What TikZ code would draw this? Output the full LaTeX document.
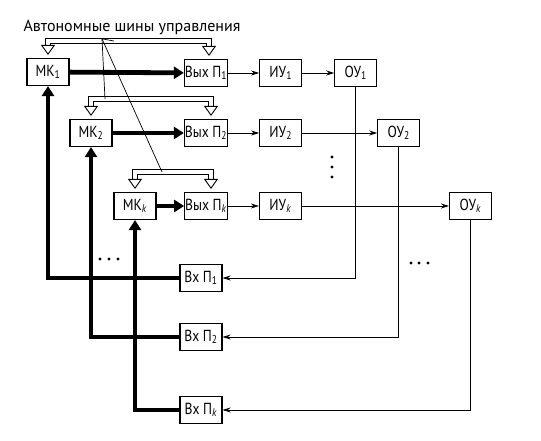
\documentclass[tikz,border=0pt]{standalone}
\usepackage{fontspec}
\setmainfont{PT Sans}[FakeStretch=0.85]
\newfontfamily\labelfont{PT Sans}
\usetikzlibrary{arrows.meta,calc,positioning}

\begin{document}
\begin{tikzpicture}[x=1pt,y=-1pt,
    every node/.style={font=\fontsize{16}{18}\selectfont,align=center},
    box/.style={draw=black,line width=1.1pt,minimum height=27pt,minimum width=42pt,inner sep=0.5pt},
    arrow/.style={-{Stealth[length=8pt,width=5pt]},line width=0.8pt},
    fat/.style={-{Triangle[length=10pt,width=12pt]},line width=4.8pt},
    bus/.style={double,double distance=3.5pt,line width=0.9pt,
        {Triangle[open,line width=0.9pt,length=10pt,width=14pt]}-{Triangle[open,line width=0.9pt,length=10pt,width=14pt]},
        shorten <=3pt,shorten >=3pt}
]
\useasboundingbox (0,0) rectangle (541,441);

\node[font=\labelfont\fontsize{16}{18}\selectfont] (lbl) at (132,27) {Автономные шины управления};

% controllers and output ports
\node[box] (mk1) at (48,72) {МК\textsubscript{1}};
\node[box] (mk2) at (91,133) {МК\textsubscript{2}};
\node[box] (mkk) at (135,206) {МК\textsubscript{\textit{k}}};
\node[box] (out1) at (206,73) {Вых П\textsubscript{1}};
\node[box] (out2) at (206,133) {Вых П\textsubscript{2}};
\node[box] (outk) at (206,206) {Вых П\textsubscript{\textit{k}}};

\node[box,right=31pt of out1] (iu1) {ИУ\textsubscript{1}};
\node[box,right=31pt of out2] (iu2) {ИУ\textsubscript{2}};
\node[box,right=31pt of outk] (iuk) {ИУ\textsubscript{\textit{k}}};
\node[box,right=32pt of iu1] (ou1) {ОУ\textsubscript{1}};
\node[box,right=75pt of iu2] (ou2) {ОУ\textsubscript{2}};
\node[box,right=147pt of iuk] (ouk) {ОУ\textsubscript{\textit{k}}};

% input ports
\node[box] (in1) at (201,278) {Вх П\textsubscript{1}};
\node[box] (in2) at (201,337) {Вх П\textsubscript{2}};
\node[box] (ink) at (201,410) {Вх П\textsubscript{\textit{k}}};

% ellipsis dots
\foreach \d in {157,167,177} \fill (332,\d) circle (1.6pt);
\foreach \d in {100,109,118} \fill (\d,259) circle (1.6pt);
\foreach \d in {411,419,428} \fill (\d,263) circle (1.6pt);

% buses
\draw[bus] (mk1.north) -- ++(0,-17) -| ([xshift=3pt]out1.north);
\draw[bus] (mk2.north) -- ++(0,-20) -| ([xshift=5pt]out2.north);
\draw[bus] (mkk.north) -- ++(0,-20) -| ([xshift=5pt]outk.north);

\coordinate (lead) at ($(lbl.south)+(-30,1)$);
\draw[line width=0.7pt] (lead) -- (114,41);
\draw[line width=0.7pt] (lead) -- (105,99);
\draw[line width=0.7pt] (lead) -- (162,172);

\draw[fat] (mk1) -- (out1);
\draw[fat] (mk2) -- (out2);
\draw[fat] (mkk) -- (outk);

\draw[arrow] (out1) -- (iu1);
\draw[arrow] (out2) -- (iu2);
\draw[arrow] (outk) -- (iuk);
\draw[arrow] (iu1) -- (ou1);
\draw[arrow] (iu2) -- (ou2);
\draw[arrow] (iuk) -- (ouk);

% feedback
\draw[arrow] (ou1.south) |- (in1.east);
\draw[arrow] (ou2.south) |- (in2.east);
\draw[arrow] (ouk.south) |- (ink.east);
\draw[fat] (in1.west) -| (mk1.south);
\draw[fat] (in2.west) -| (mk2.south);
\draw[fat] (ink.west) -| (mkk.south);
\end{tikzpicture}
\end{document}
